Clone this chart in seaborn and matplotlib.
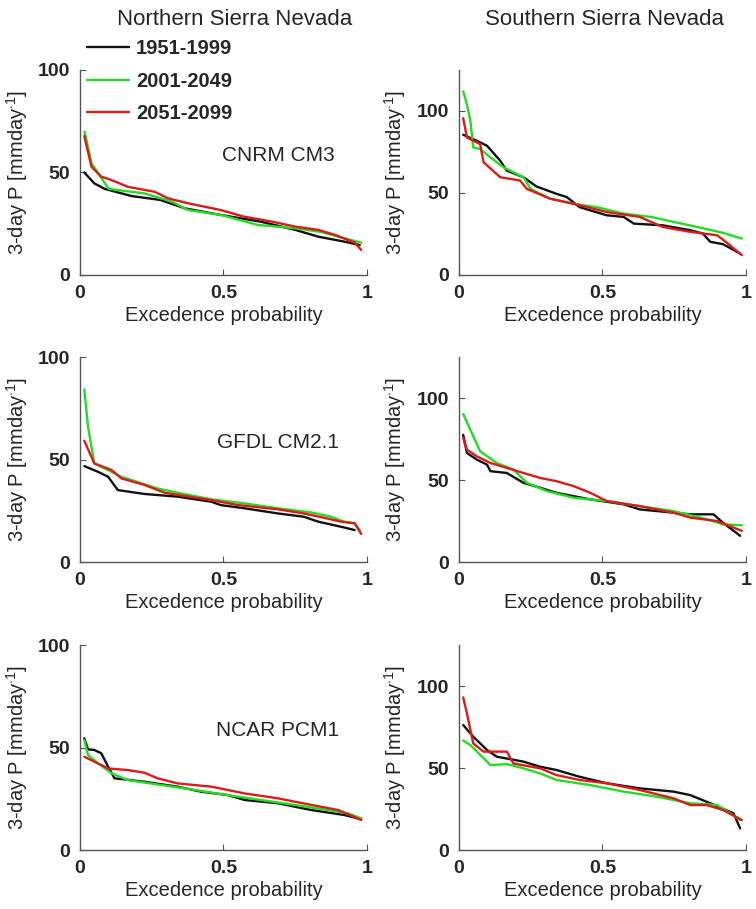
import matplotlib
matplotlib.use('Agg')
import matplotlib.pyplot as plt
import pandas as pd
import seaborn as sns

periods = ['1951-1999', '2001-2049', '2051-2099']
period_colors = ['#111111', '#22dd22', '#dd1a1a']
models = ['CNRM CM3', 'GFDL CM2.1', 'NCAR PCM1']
regions = ['Northern Sierra Nevada', 'Southern Sierra Nevada']

# Northern Sierra Nevada, CNRM CM3
n_cnrm_1951_x = [0.015, 0.05, 0.086, 0.18, 0.28, 0.365, 0.49, 0.63, 0.75, 0.83, 0.92, 0.975]
n_cnrm_1951_y = [50, 44.7, 42, 38.5, 36.6, 32.5, 29.3, 26, 22, 18.7, 16.3, 14.6]
n_cnrm_2001_x = [0.016, 0.04, 0.057, 0.1, 0.225, 0.32, 0.376, 0.49, 0.62, 0.75, 0.84, 0.92, 0.98]
n_cnrm_2001_y = [70, 54.5, 51, 42, 39.8, 35.8, 31.7, 29.3, 24.4, 22.8, 21, 17.9, 15.8]
n_cnrm_2051_x = [0.015, 0.04, 0.074, 0.11, 0.167, 0.26, 0.307, 0.376, 0.49, 0.57, 0.67, 0.75, 0.83, 0.89, 0.957, 0.98]
n_cnrm_2051_y = [67.8, 52.8, 48, 46.3, 43, 40.6, 37.4, 35, 31.7, 28.5, 26, 23.6, 22, 19.5, 15.8, 12.2]

# Southern Sierra Nevada, CNRM CM3
s_cnrm_1951_x = [0.015, 0.063, 0.098, 0.144, 0.167, 0.225, 0.27, 0.34, 0.376, 0.42, 0.515, 0.574, 0.61, 0.71, 0.806, 0.85, 0.876, 0.92, 0.98]
s_cnrm_1951_y = [85.5, 81.8, 78.8, 69.7, 63.6, 59.6, 54, 49.5, 47.5, 41.4, 36.4, 35.4, 31.3, 30.3, 27.3, 25.3, 20.2, 18.8, 13.1]
s_cnrm_2001_x = [0.015, 0.028, 0.04, 0.05, 0.074, 0.11, 0.155, 0.225, 0.25, 0.318, 0.4, 0.48, 0.574, 0.67, 0.75, 0.83, 0.92, 0.986]
s_cnrm_2001_y = [112, 104, 94, 77.8, 76.8, 71.7, 65.7, 59.6, 52.5, 46.5, 43.4, 41.4, 37.4, 35.4, 32.3, 29.3, 25.7, 22.2]
s_cnrm_2051_x = [0.015, 0.028, 0.074, 0.086, 0.144, 0.213, 0.237, 0.318, 0.4, 0.515, 0.63, 0.71, 0.806, 0.9, 0.93, 0.986]
s_cnrm_2051_y = [95.6, 83.8, 79.8, 68.7, 59.6, 57.6, 52.5, 46.5, 43.4, 38.4, 35.4, 29.3, 26.3, 24.2, 20.2, 12.1]

# Northern Sierra Nevada, GFDL CM2.1
n_gfdl_1951_x = [0.015, 0.063, 0.098, 0.132, 0.225, 0.34, 0.458, 0.49, 0.574, 0.69, 0.78, 0.83, 0.91, 0.957]
n_gfdl_1951_y = [46.8, 44, 41.6, 35.1, 33.2, 31.9, 29.4, 27.8, 26.2, 23.7, 22.1, 19.7, 17.2, 15.6]
n_gfdl_2001_x = [0.015, 0.028, 0.05, 0.11, 0.144, 0.27, 0.34, 0.458, 0.574, 0.69, 0.806, 0.876, 0.92, 0.957, 0.975]
n_gfdl_2001_y = [84.2, 66, 48.1, 44, 41.6, 35.9, 33.8, 30.6, 28.6, 26.2, 24.2, 22.1, 19.7, 18.9, 15.6]
n_gfdl_2051_x = [0.015, 0.05, 0.11, 0.144, 0.225, 0.295, 0.458, 0.55, 0.69, 0.78, 0.86, 0.91, 0.957, 0.98]
n_gfdl_2051_y = [59.2, 48.1, 44.9, 40.8, 37.6, 33.8, 30.2, 27.8, 25.7, 23.7, 21.3, 19.7, 18.9, 13.7]

# Southern Sierra Nevada, GFDL CM2.1
s_gfdl_1951_x = [0.015, 0.028, 0.063, 0.098, 0.11, 0.167, 0.225, 0.283, 0.34, 0.458, 0.574, 0.63, 0.748, 0.806, 0.887, 0.92, 0.98]
s_gfdl_1951_y = [77.6, 66.5, 62.4, 59.4, 55.4, 54.3, 48.3, 45.3, 42.2, 38.2, 35.2, 32.1, 30.1, 29.1, 29.1, 24, 16]
s_gfdl_2001_x = [0.015, 0.04, 0.074, 0.132, 0.19, 0.237, 0.307, 0.4, 0.515, 0.63, 0.748, 0.864, 0.92, 0.986]
s_gfdl_2001_y = [90.3, 80.6, 67.5, 60.4, 56.4, 48.3, 43.2, 39.2, 37.2, 34.1, 31.1, 26.1, 23, 22.4]
s_gfdl_2051_x = [0.015, 0.028, 0.063, 0.11, 0.167, 0.225, 0.283, 0.34, 0.4, 0.458, 0.515, 0.63, 0.748, 0.806, 0.9, 0.986]
s_gfdl_2051_y = [75.6, 68.5, 64.4, 60.4, 57.4, 54.3, 51.3, 49.3, 46.3, 42.2, 37.2, 34.1, 30.1, 27.1, 25, 19]

# Northern Sierra Nevada, NCAR PCM1
n_ncar_1951_x = [0.015, 0.028, 0.05, 0.074, 0.098, 0.12, 0.225, 0.34, 0.42, 0.515, 0.574, 0.69, 0.806, 0.92, 0.98]
n_ncar_1951_y = [54.5, 49.1, 48.8, 47.2, 40.7, 35, 33.3, 30.9, 28.5, 26.8, 24.4, 22.8, 19.5, 17.1, 15]
n_ncar_2001_x = [0.015, 0.028, 0.063, 0.11, 0.167, 0.283, 0.4, 0.515, 0.63, 0.748, 0.864, 0.934, 0.98]
n_ncar_2001_y = [53.7, 46.3, 42.3, 37.4, 34.1, 31.7, 29.3, 26.8, 24.4, 22, 19.5, 17.9, 15.4]
n_ncar_2051_x = [0.015, 0.05, 0.098, 0.167, 0.225, 0.27, 0.34, 0.458, 0.574, 0.69, 0.806, 0.9, 0.98]
n_ncar_2051_y = [45.5, 43.1, 39.8, 39, 37.7, 35, 32.5, 30.9, 27.6, 25.2, 22, 19.5, 14.6]

# Southern Sierra Nevada, NCAR PCM1
s_ncar_1951_x = [0.015, 0.05, 0.098, 0.132, 0.225, 0.283, 0.34, 0.42, 0.515, 0.63, 0.748, 0.806, 0.876, 0.957, 0.98]
s_ncar_1951_y = [76.2, 69.1, 61, 56.9, 53.9, 50.8, 48.8, 44.7, 40.7, 37.6, 35.6, 33.5, 28.5, 22.4, 13.2]
s_ncar_2001_x = [0.015, 0.04, 0.11, 0.167, 0.225, 0.283, 0.34, 0.458, 0.574, 0.69, 0.806, 0.9, 0.946, 0.98]
s_ncar_2001_y = [66.7, 64, 51.8, 52.4, 49.8, 46.7, 42.7, 39.6, 35.6, 32.5, 28.5, 27.4, 22.4, 18.3]
s_ncar_2051_x = [0.015, 0.028, 0.05, 0.086, 0.167, 0.19, 0.283, 0.34, 0.42, 0.515, 0.63, 0.748, 0.806, 0.864, 0.92, 0.986]
s_ncar_2051_y = [93.1, 83.3, 65, 60, 60, 52.8, 49.8, 45.7, 42.7, 40.7, 36.6, 31.5, 27.4, 27.4, 24.4, 18.3]

panels = [
    [[(n_cnrm_1951_x, n_cnrm_1951_y), (n_cnrm_2001_x, n_cnrm_2001_y), (n_cnrm_2051_x, n_cnrm_2051_y)],
     [(s_cnrm_1951_x, s_cnrm_1951_y), (s_cnrm_2001_x, s_cnrm_2001_y), (s_cnrm_2051_x, s_cnrm_2051_y)]],
    [[(n_gfdl_1951_x, n_gfdl_1951_y), (n_gfdl_2001_x, n_gfdl_2001_y), (n_gfdl_2051_x, n_gfdl_2051_y)],
     [(s_gfdl_1951_x, s_gfdl_1951_y), (s_gfdl_2001_x, s_gfdl_2001_y), (s_gfdl_2051_x, s_gfdl_2051_y)]],
    [[(n_ncar_1951_x, n_ncar_1951_y), (n_ncar_2001_x, n_ncar_2001_y), (n_ncar_2051_x, n_ncar_2051_y)],
     [(s_ncar_1951_x, s_ncar_1951_y), (s_ncar_2001_x, s_ncar_2001_y), (s_ncar_2051_x, s_ncar_2051_y)]],
]


def panel_frame(series):
    rows = []
    for label, (xs, ys) in zip(periods, series):
        rows += [(x, y, label) for x, y in zip(xs, ys)]
    return pd.DataFrame(rows, columns=['prob', 'precip', 'period'])


sns.set_style('ticks')
plt.rcParams['font.family'] = ['Liberation Sans', 'DejaVu Sans']
plt.rcParams['mathtext.fontset'] = 'custom'
plt.rcParams['mathtext.rm'] = 'Liberation Sans'
plt.rcParams['mathtext.it'] = 'Liberation Sans'

fig = plt.figure(figsize=(7.56, 9.09), dpi=100)

lefts = [0.1058, 0.607]
bottoms = [0.6975, 0.3817, 0.0649]
w, h = 0.3796, 0.2255

for i, model in enumerate(models):
    for j in range(2):
        ax = fig.add_axes([lefts[j], bottoms[i], w, h])
        data = panel_frame(panels[i][j])
        sns.lineplot(data=data, x='prob', y='precip', hue='period', palette=period_colors,
                     estimator=None, sort=False, linewidth=1.7, legend=(i == 0 and j == 0), ax=ax)
        ax.set_xlim(0, 1)
        ax.set_xticks([0, 0.5, 1])
        ax.set_xticklabels(['0', '0.5', '1'])
        if j == 0:
            ax.set_ylim(0, 100)
        else:
            ax.set_ylim(0, 125)
        ax.set_yticks([0, 50, 100])
        for s in ['top', 'right']:
            ax.spines[s].set_visible(False)
        for s in ['left', 'bottom']:
            ax.spines[s].set_color('#555555')
            ax.spines[s].set_linewidth(1.0)
        ax.tick_params(direction='in', length=4, color='#555555', labelsize=14, pad=7)
        for lab in ax.get_xticklabels() + ax.get_yticklabels():
            lab.set_fontweight('bold')
        ax.set_xlabel('Excedence probability', fontsize=14.5, labelpad=3)
        ax.set_ylabel(r'3-day P [mmday$^{\cdot 1}$]', fontsize=14.5, labelpad=6)
        if j == 0:
            ax.text(0.69, 0.585, model, transform=ax.transAxes, fontsize=15,
                    ha='center', va='center')
        if i == 0 and j == 0:
            leg = ax.legend(loc='upper left', bbox_to_anchor=(-0.005, 1.19), frameon=False,
                            fontsize=14.5, handlelength=2.1, handletextpad=0.35,
                            labelspacing=0.68, borderaxespad=0)
            leg.set_title(None)
            for t in leg.get_texts():
                t.set_fontweight('bold')

fig.text(0.31, 0.978, regions[0], fontsize=16, ha='center', va='center')
fig.text(0.80, 0.978, regions[1], fontsize=16, ha='center', va='center')

fig.savefig('out.png', dpi=100)
